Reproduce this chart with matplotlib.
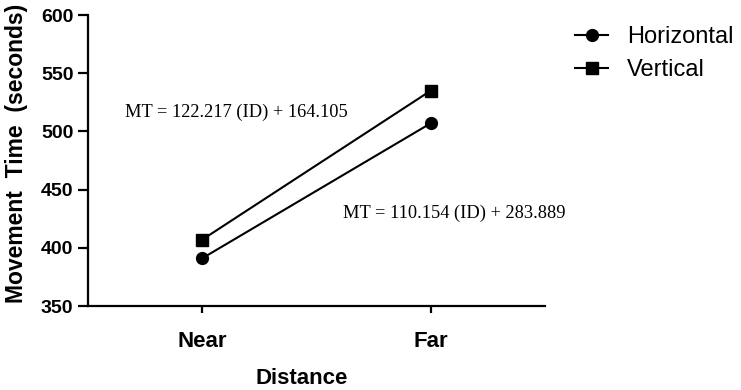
import matplotlib
matplotlib.use('Agg')
import matplotlib.pyplot as pyplot


# Data

categories = ['Near', 'Far']
horizontal = [391, 507]
vertical = [407, 535]
yTicks = [350, 400, 450, 500, 550, 600]
equationVertical = 'MT = 122.217 (ID) + 164.105'
equationHorizontal = 'MT = 110.154 (ID) + 283.889'


# Plot

pyplot.rcParams['font.family'] = ['Liberation Sans', 'DejaVu Sans']

fig = pyplot.figure(figsize = (7.41, 3.90), dpi = 100)
ax = fig.add_axes([88 / 741, 1 - 306 / 390, (545 - 88) / 741, (306 - 15) / 390])

x = list(range(len(categories)))
p1 = ax.plot(x, horizontal, color = 'black', linewidth = 1.5, marker = 'o', markersize = 8.5)
p2 = ax.plot(x, vertical, color = 'black', linewidth = 1.5, marker = 's', markersize = 8.5)

ax.set_xlim(-0.5, 1.5)
ax.set_ylim(350, 600)
ax.set_xticks(x)
ax.set_xticklabels(categories, fontsize = 16, fontweight = 'bold')
ax.set_yticks(yTicks)
ax.set_yticklabels([str(t) for t in yTicks], fontsize = 14, fontweight = 'bold')

for side in ['top', 'right']:
    ax.spines[side].set_visible(False)
for side in ['left', 'bottom']:
    ax.spines[side].set_linewidth(1.6)

ax.tick_params(axis = 'y', length = 7, width = 1.6, pad = 3.5)
ax.tick_params(axis = 'x', length = 5, width = 1.6, pad = 13)

ax.set_xlabel('Distance', fontsize = 16, fontweight = 'bold')
ax.xaxis.set_label_coords(0.468, -0.213)
ax.set_ylabel('Movement  Time  (seconds)', fontsize = 16.5, fontweight = 'bold')
ax.yaxis.set_label_coords(-0.131, 0.526)

ax.text(-0.34, 516, equationVertical, family = 'Liberation Serif', fontsize = 13.2,
        ha = 'left', va = 'center')
ax.text(0.616, 430, equationHorizontal, family = 'Liberation Serif', fontsize = 13.2,
        ha = 'left', va = 'center')

fig.legend(p1 + p2, ['Horizontal', 'Vertical'], loc = 'center left',
           bbox_to_anchor = (575 / 741, 1 - 53.5 / 390), frameon = False,
           fontsize = 17, handlelength = 1.4, handletextpad = 0.8,
           labelspacing = 0.45, borderpad = 0, borderaxespad = 0)

fig.savefig('out.png', dpi = 100)
